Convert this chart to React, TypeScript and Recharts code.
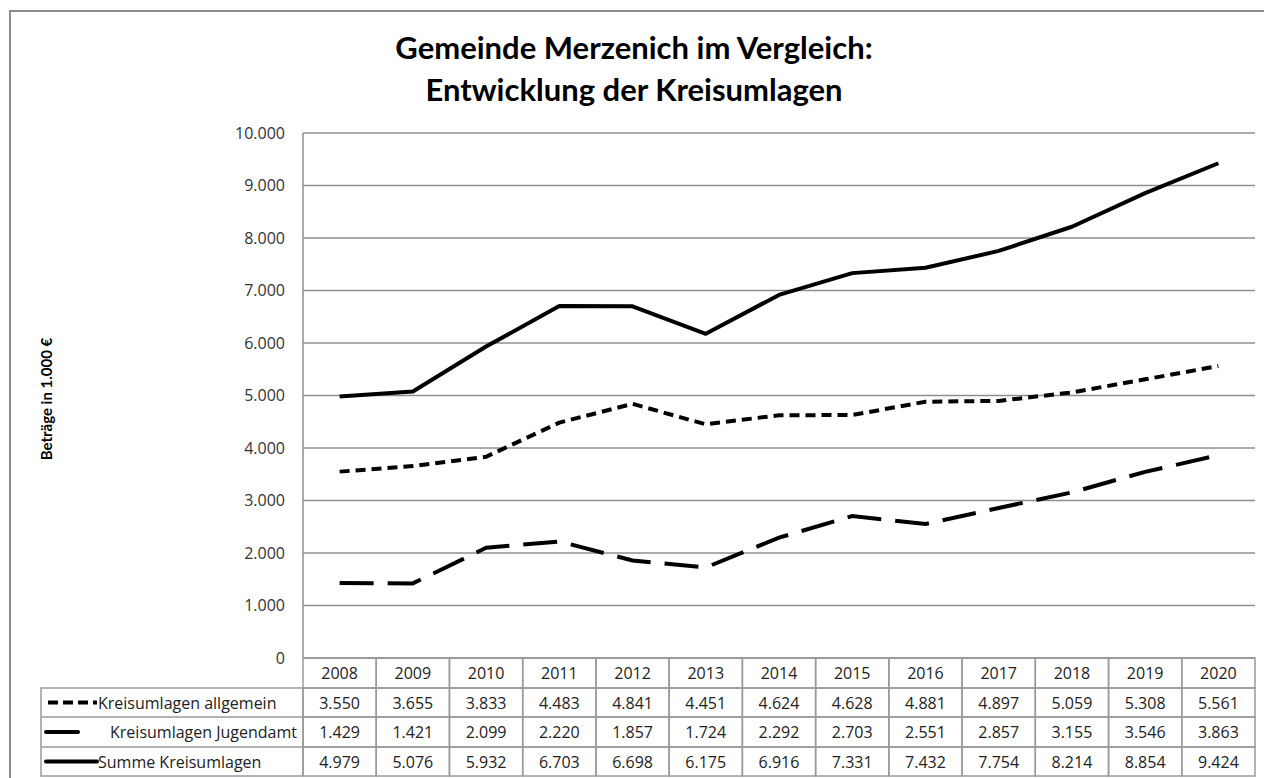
import { LineChart, Line, XAxis, YAxis, CartesianGrid } from 'recharts'

const jahre = ['2008', '2009', '2010', '2011', '2012', '2013', '2014', '2015', '2016', '2017', '2018', '2019', '2020']
const allgemein = [3550, 3655, 3833, 4483, 4841, 4451, 4624, 4628, 4881, 4897, 5059, 5308, 5561]
const jugendamt = [1429, 1421, 2099, 2220, 1857, 1724, 2292, 2703, 2551, 2857, 3155, 3546, 3863]
const summe = [4979, 5076, 5932, 6703, 6698, 6175, 6916, 7331, 7432, 7754, 8214, 8854, 9424]
const yTicks = [0, 1000, 2000, 3000, 4000, 5000, 6000, 7000, 8000, 9000, 10000]

const daten = jahre.map((jahr, i) => ({
  jahr,
  allgemein: allgemein[i],
  jugendamt: jugendamt[i],
  summe: summe[i],
}))

const W = 1264
const H = 778
const LEFT = 303
const RIGHT = 9
const TOP = 133
const AXIS_H = 118
const BAND = (W - LEFT - RIGHT) / jahre.length
const ROWS = [0, 30, 59, 89, 118]
const FONT = '"Open Sans", "Noto Sans", sans-serif'
const TITLE_FONT = 'Lato, "Noto Sans", sans-serif'
const GRID = '#8f8f8f'
const TABLE = '#9a9a9a'

const fmt = (n: number) => String(n).replace(/\B(?=(\d{3})+(?!\d))/g, '.')

function TabellenSpalte(props: any) {
  const { x, y, payload } = props
  const i = payload.index
  const werte = [jahre[i], fmt(allgemein[i]), fmt(jugendamt[i]), fmt(summe[i])]
  const x0 = x - BAND / 2
  return (
    <g>
      {werte.map((w, r) => (
        <g key={r}>
          <rect
            x={x0}
            y={y + ROWS[r]}
            width={BAND}
            height={ROWS[r + 1] - ROWS[r]}
            fill="none"
            stroke={TABLE}
            strokeWidth={1.5}
          />
          <text
            x={x}
            y={y + (ROWS[r] + ROWS[r + 1]) / 2}
            textAnchor="middle"
            dominantBaseline="central"
            fontSize={16}
            fill="#222"
            fontFamily={FONT}
          >
            {w}
          </text>
        </g>
      ))}
    </g>
  )
}

function Legende() {
  const top = TOP + (H - TOP - 2 - AXIS_H)
  const rows = ROWS.map((r) => top + r)
  return (
    <svg
      width={W}
      height={H}
      style={{ position: 'absolute', left: 0, top: 0, pointerEvents: 'none' }}
    >
      <rect
        x={41}
        y={rows[1]}
        width={LEFT - 41}
        height={rows[4] - rows[1]}
        fill="none"
        stroke={TABLE}
        strokeWidth={1.5}
      />
      <line x1={41} x2={LEFT} y1={rows[2]} y2={rows[2]} stroke={TABLE} strokeWidth={1.5} />
      <line x1={41} x2={LEFT} y1={rows[3]} y2={rows[3]} stroke={TABLE} strokeWidth={1.5} />
      <line x1={48} x2={97} y1={(rows[1] + rows[2]) / 2} y2={(rows[1] + rows[2]) / 2} stroke="#000" strokeWidth={4} strokeDasharray="10 5" />
      <line x1={46} x2={78} y1={(rows[2] + rows[3]) / 2} y2={(rows[2] + rows[3]) / 2} stroke="#000" strokeWidth={4} strokeLinecap="round" />
      <line x1={46} x2={97} y1={(rows[3] + rows[4]) / 2} y2={(rows[3] + rows[4]) / 2} stroke="#000" strokeWidth={4} strokeLinecap="round" />
      <g fontFamily={FONT} fontSize={16} fill="#222" dominantBaseline="central">
        <text x={98} y={(rows[1] + rows[2]) / 2}>Kreisumlagen allgemein</text>
        <text x={297} y={(rows[2] + rows[3]) / 2} textAnchor="end">Kreisumlagen Jugendamt</text>
        <text x={98} y={(rows[3] + rows[4]) / 2}>Summe Kreisumlagen</text>
      </g>
    </svg>
  )
}

export default function App() {
  return (
    <div
      style={{
        position: 'absolute',
        left: 0,
        top: 0,
        width: W,
        height: H,
        overflow: 'hidden',
        background: '#fff',
        fontFamily: FONT,
      }}
    >
      <div
        style={{
          position: 'absolute',
          left: 9,
          top: 10,
          width: 1400,
          height: 900,
          border: '2px solid #8c8c8c',
        }}
      />
      <div
        style={{
          position: 'absolute',
          left: 0,
          width: W,
          top: 26,
          textAlign: 'center',
          fontFamily: TITLE_FONT,
          fontSize: 31,
          fontWeight: 700,
          lineHeight: '42px',
          color: '#000',
          paddingLeft: 2,
        }}
      >
        Gemeinde Merzenich im Vergleich:
        <br />
        Entwicklung der Kreisumlagen
      </div>
      <div
        style={{
          position: 'absolute',
          left: 46,
          top: 399,
          transform: 'translate(-50%, -50%) rotate(-90deg)',
          whiteSpace: 'nowrap',
          fontFamily: TITLE_FONT,
          fontSize: 15,
          fontWeight: 700,
          color: '#000',
        }}
      >
        Beträge in 1.000 €
      </div>
      <div style={{ position: 'absolute', left: 0, top: 0 }}>
        <LineChart width={W} height={H} data={daten} margin={{ top: TOP, right: RIGHT, bottom: 2, left: 0 }}>
          <CartesianGrid vertical={false} stroke={GRID} strokeWidth={1.5} />
          <XAxis
            dataKey="jahr"
            scale="band"
            interval={0}
            height={AXIS_H}
            tickSize={0}
            tickMargin={0}
            tickLine={false}
            axisLine={{ stroke: GRID, strokeWidth: 1.5 }}
            tick={<TabellenSpalte />}
          />
          <YAxis
            width={LEFT}
            domain={[0, 10000]}
            ticks={yTicks}
            tickFormatter={fmt}
            tickSize={0}
            tickMargin={18}
            tickLine={false}
            axisLine={{ stroke: GRID, strokeWidth: 1.5 }}
            tick={{ fontSize: 16, fill: '#333', fontFamily: FONT }}
          />
          <Line dataKey="allgemein" stroke="#000" strokeWidth={4} strokeDasharray="10 6" dot={false} isAnimationActive={false} />
          <Line dataKey="jugendamt" stroke="#000" strokeWidth={4} strokeDasharray="34 14" dot={false} isAnimationActive={false} />
          <Line dataKey="summe" stroke="#000" strokeWidth={4} strokeLinejoin="round" dot={false} isAnimationActive={false} />
        </LineChart>
      </div>
      <Legende />
    </div>
  )
}
